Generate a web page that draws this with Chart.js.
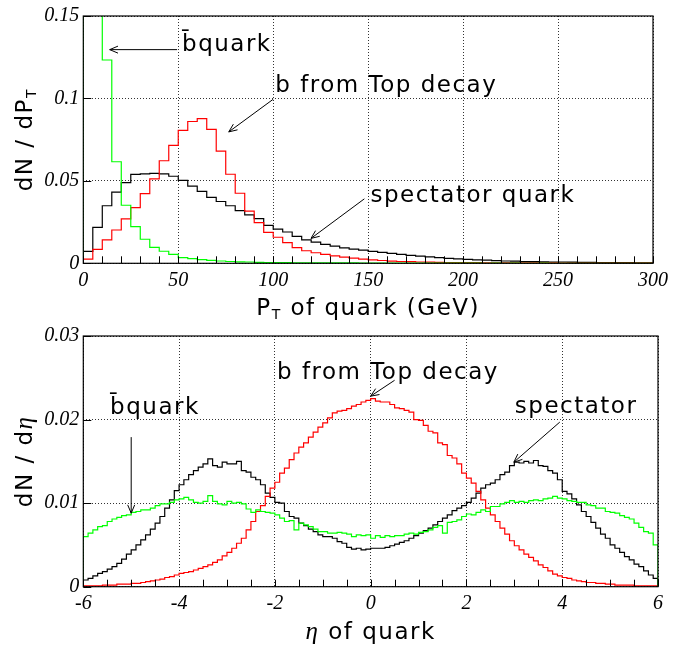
<!DOCTYPE html>
<html>
<head>
<meta charset="utf-8">
<script src="https://cdn.jsdelivr.net/npm/chart.js@4.4.1/dist/chart.umd.min.js"></script>
<style>
html, body { margin: 0; padding: 0; background: #fff; }
#wrap { position: relative; width: 673px; height: 652px; }
canvas { position: absolute; left: 0; }
</style>
</head>
<body>
<div id="wrap">
  <canvas id="ptChart" style="top:0px;width:673px;height:320px" width="673" height="320"></canvas>
  <canvas id="etaChart" style="top:320px;width:673px;height:332px" width="673" height="332"></canvas>
</div>
<script>
// ---- PT panel: 5 GeV bins from 0 to 300 ----
var ptBinLow = 0, ptBinWidth = 5;
var ptBbar = [0.32, 0.25, 0.1233, 0.0616, 0.0352, 0.0222, 0.0146, 0.0096, 0.0073, 0.0054,
  0.0035, 0.0028, 0.0022, 0.0018, 0.0014, 0.0011, 0.0009, 0.0008, 0.0006, 0.0005,
  0.0004, 0.0004, 0.0003, 0.0003, 0.0003, 0.0002, 0.0002, 0.0002, 0.0002, 0.0001,
  0.0001, 0.0001, 0.0001, 0.0001, 0.0001, 0.0001, 0.0001, 0.0001, 0.0001, 0.0001,
  0.0001, 0.0001, 0, 0.0001, 0, 0.0001, 0, 0, 0.0001, 0,
  0, 0, 0, 0, 0, 0, 0, 0, 0, 0];
var ptSpectator = [0.0072, 0.0218, 0.0349, 0.0432, 0.0489, 0.0539, 0.0543, 0.0545, 0.0543, 0.0528,
  0.0503, 0.0468, 0.0436, 0.0400, 0.0375, 0.0349, 0.0319, 0.0294, 0.0271, 0.0230,
  0.0207, 0.0190, 0.0163, 0.0142, 0.0128, 0.0115, 0.0104, 0.0094, 0.0086, 0.0080,
  0.0072, 0.0066, 0.0060, 0.0054, 0.0048, 0.0043, 0.0039, 0.0034, 0.0030, 0.0027,
  0.0024, 0.0021, 0.0019, 0.0016, 0.0014, 0.0013, 0.0011, 0.0010, 0.0009, 0.0008,
  0.0008, 0.0007, 0.0006, 0.0006, 0.0005, 0.0005, 0.0004, 0.0004, 0.0003, 0.0003];
var ptBfromTop = [0.0025, 0.0084, 0.0142, 0.0202, 0.0270, 0.0338, 0.0423, 0.0512, 0.0622, 0.0715,
  0.0806, 0.0860, 0.0878, 0.0812, 0.0680, 0.0540, 0.0425, 0.0317, 0.0247, 0.0188,
  0.0158, 0.0125, 0.0095, 0.0076, 0.0064, 0.0054, 0.0045, 0.0037, 0.0031, 0.0025,
  0.0021, 0.0017, 0.0013, 0.0011, 0.0010, 0.0008, 0.0007, 0.0006, 0.0005, 0.0005,
  0.0004, 0.0004, 0.0003, 0.0003, 0.0003, 0.0002, 0.0002, 0.0002, 0.0002, 0.0002,
  0.0001, 0.0001, 0.0001, 0.0001, 0.0001, 0.0001, 0.0001, 0.0001, 0.0001, 0.0001];
var ptXTicks = [0, 50, 100, 150, 200, 250, 300];
var ptYTicks = [0, 0.05, 0.1, 0.15];

// ---- eta panel: 0.1 bins from -6 to 6 ----
var etaBinLow = -6, etaBinWidth = 0.1;
var etaBbar = [0.0060, 0.0064, 0.0068, 0.0072, 0.0073, 0.0078, 0.0081, 0.0083, 0.0085, 0.0086,
  0.0089, 0.0090, 0.0092, 0.0092, 0.0094, 0.0097, 0.0099, 0.0099, 0.0101, 0.0104,
  0.0105, 0.0107, 0.0104, 0.0101, 0.0100, 0.0102, 0.0109, 0.0102, 0.0099, 0.0098,
  0.0102, 0.0100, 0.0101, 0.0099, 0.0093, 0.0089, 0.0092, 0.0090, 0.0089, 0.0088,
  0.0086, 0.0082, 0.0078, 0.0079, 0.0068, 0.0076, 0.0074, 0.0072, 0.0069, 0.0066,
  0.0066, 0.0064, 0.0064, 0.0065, 0.0064, 0.0063, 0.0060, 0.0062, 0.0061, 0.0062,
  0.0058, 0.0061, 0.0059, 0.0061, 0.0060, 0.0061, 0.0061, 0.0063, 0.0064, 0.0063,
  0.0065, 0.0066, 0.0068, 0.0071, 0.0073, 0.0064, 0.0077, 0.0078, 0.0080, 0.0084,
  0.0087, 0.0086, 0.0089, 0.0092, 0.0090, 0.0096, 0.0096, 0.0099, 0.0101, 0.0103,
  0.0101, 0.0102, 0.0101, 0.0103, 0.0104, 0.0103, 0.0105, 0.0106, 0.0108, 0.0106,
  0.0105, 0.0103, 0.0102, 0.0101, 0.0101, 0.0098, 0.0097, 0.0094, 0.0094, 0.0090,
  0.0089, 0.0088, 0.0085, 0.0083, 0.0081, 0.0076, 0.0071, 0.0066, 0.0064, 0.0050];
var etaSpectator = [0.0008, 0.0010, 0.0013, 0.0016, 0.0018, 0.0021, 0.0024, 0.0028, 0.0033, 0.0039,
  0.0044, 0.0050, 0.0056, 0.0062, 0.0069, 0.0076, 0.0084, 0.0094, 0.0104, 0.0115,
  0.0122, 0.0128, 0.0134, 0.0139, 0.0143, 0.0147, 0.0153, 0.0145, 0.0143, 0.0149,
  0.0147, 0.0147, 0.0150, 0.0139, 0.0137, 0.0131, 0.0128, 0.0122, 0.0112, 0.0107,
  0.0101, 0.0100, 0.0090, 0.0084, 0.0082, 0.0076, 0.0073, 0.0069, 0.0066, 0.0062,
  0.0060, 0.0060, 0.0058, 0.0054, 0.0052, 0.0047, 0.0045, 0.0046, 0.0044, 0.0045,
  0.0046, 0.0046, 0.0046, 0.0047, 0.0049, 0.0051, 0.0053, 0.0055, 0.0058, 0.0061,
  0.0064, 0.0067, 0.0070, 0.0074, 0.0078, 0.0082, 0.0086, 0.0091, 0.0094, 0.0097,
  0.0101, 0.0106, 0.0112, 0.0118, 0.0122, 0.0124, 0.0128, 0.0134, 0.0137, 0.0145,
  0.0149, 0.0148, 0.0150, 0.0148, 0.0151, 0.0145, 0.0144, 0.0139, 0.0136, 0.0128,
  0.0114, 0.0111, 0.0105, 0.0098, 0.0090, 0.0084, 0.0077, 0.0070, 0.0063, 0.0058,
  0.0050, 0.0046, 0.0041, 0.0036, 0.0032, 0.0027, 0.0024, 0.0019, 0.0014, 0.0010];
var etaBfromTop = [0.0001, 0.0001, 0.0001, 0.0001, 0.0002, 0.0002, 0.0002, 0.0003, 0.0003, 0.0003,
  0.0004, 0.0004, 0.0005, 0.0006, 0.0007, 0.0008, 0.0009, 0.0011, 0.0012, 0.0014,
  0.0016, 0.0017, 0.0018, 0.0020, 0.0022, 0.0024, 0.0026, 0.0029, 0.0032, 0.0037,
  0.0041, 0.0046, 0.0052, 0.0058, 0.0068, 0.0078, 0.0090, 0.0097, 0.0108, 0.0118,
  0.0125, 0.0136, 0.0142, 0.0152, 0.0160, 0.0167, 0.0172, 0.0179, 0.0185, 0.0191,
  0.0196, 0.0202, 0.0208, 0.0210, 0.0211, 0.0213, 0.0216, 0.0218, 0.0221, 0.0223,
  0.0225, 0.0222, 0.0221, 0.0221, 0.0218, 0.0214, 0.0213, 0.0211, 0.0209, 0.0200,
  0.0199, 0.0193, 0.0186, 0.0184, 0.0172, 0.0170, 0.0157, 0.0154, 0.0147, 0.0136,
  0.0130, 0.0124, 0.0114, 0.0104, 0.0094, 0.0086, 0.0078, 0.0070, 0.0063, 0.0055,
  0.0049, 0.0044, 0.0039, 0.0035, 0.0031, 0.0026, 0.0023, 0.0019, 0.0015, 0.0013,
  0.0011, 0.0010, 0.0008, 0.0007, 0.0006, 0.0005, 0.0005, 0.0004, 0.0004, 0.0003,
  0.0003, 0.0002, 0.0002, 0.0002, 0.0002, 0.0001, 0.0001, 0.0001, 0.0001, 0.0001];
var etaXTicks = [-6, -4, -2, 0, 2, 4, 6];
var etaYTicks = [0, 0.01, 0.02, 0.03];

var sansFont = '23px "DejaVu Sans"';
var subFont = '14px "DejaVu Sans"';
var greekFont = 'italic 25px "Liberation Serif"';
var textSpacing = '1.5px';

// turn bin contents into a closed step outline
function histPoints(lo, w, vals) {
  var n = vals.length;
  var pts = [{x: lo, y: 0}];
  for (var i = 0; i < n; i++) pts.push({x: lo + i * w, y: vals[i]});
  pts.push({x: lo + n * w, y: vals[n - 1]});
  pts.push({x: lo + n * w, y: 0});
  return pts;
}

function ds(label, color, pts) {
  return {label: label, data: pts, borderColor: color, borderWidth: 1.2,
    stepped: 'before', pointRadius: 0, fill: false, tension: 0};
}

function drawRich(ctx, parts, x, y) {
  var w = 0;
  parts.forEach(function(p) { ctx.font = p.font; w += ctx.measureText(p.t).width; });
  var cx = x - w / 2;
  parts.forEach(function(p) {
    ctx.font = p.font;
    ctx.fillText(p.t, cx, y + (p.dy || 0));
    cx += ctx.measureText(p.t).width;
  });
}

function arrow(ctx, x1, y1, x2, y2) {
  var ang = Math.atan2(y2 - y1, x2 - x1), h = 9, s = 0.4;
  ctx.beginPath();
  ctx.moveTo(x1, y1); ctx.lineTo(x2, y2);
  ctx.moveTo(x2 - h * Math.cos(ang - s), y2 - h * Math.sin(ang - s));
  ctx.lineTo(x2, y2);
  ctx.lineTo(x2 - h * Math.cos(ang + s), y2 - h * Math.sin(ang + s));
  ctx.stroke();
}

function decor(cfg) {
  return {
    id: 'decor',
    afterDraw: function(chart) {
      var ctx = chart.ctx, a = chart.chartArea;
      var xs = chart.scales.x, ys = chart.scales.y;
      ctx.save();
      ctx.strokeStyle = '#000';
      ctx.fillStyle = '#000';
      // small ticks pointing inwards
      ctx.lineWidth = 1;
      ctx.beginPath();
      for (var v = cfg.xMin; v <= cfg.xMax + 1e-9; v += cfg.xMinor) {
        var px = Math.round(xs.getPixelForValue(v)) + 0.5;
        ctx.moveTo(px, a.bottom); ctx.lineTo(px, a.bottom - 7);
      }
      cfg.yTicks.forEach(function(t) {
        var py = Math.round(ys.getPixelForValue(t)) + 0.5;
        ctx.moveTo(a.left, py); ctx.lineTo(a.left + 8, py);
      });
      ctx.stroke();
      ctx.lineWidth = 1.2;
      ctx.strokeRect(a.left, a.top, a.right - a.left, a.bottom - a.top);
      // arrows
      ctx.lineWidth = 1;
      cfg.arrows.forEach(function(r) {
        arrow(ctx, xs.getPixelForValue(r[0]), ys.getPixelForValue(r[1]),
          xs.getPixelForValue(r[2]), ys.getPixelForValue(r[3]));
      });
      // annotation texts
      ctx.textAlign = 'left';
      ctx.textBaseline = 'alphabetic';
      ctx.letterSpacing = textSpacing;
      ctx.font = sansFont;
      cfg.notes.forEach(function(n) {
        ctx.fillText(n.t, xs.getPixelForValue(n.x), ys.getPixelForValue(n.y));
      });
      // axis titles
      drawRich(ctx, cfg.xTitle, (a.left + a.right) / 2, a.bottom + 52);
      ctx.translate(a.left - 51, (a.top + a.bottom) / 2);
      ctx.rotate(-Math.PI / 2);
      drawRich(ctx, cfg.yTitle, 0, 0);
      ctx.restore();
    }
  };
}

function makeChart(id, sets, xMin, xMax, yMax, xTicks, yTicks, padTop, bottomEdge, deco) {
  var h = document.getElementById(id).height;
  var tickFont = {family: 'Liberation Serif', style: 'italic', size: 20};
  return new Chart(document.getElementById(id), {
    type: 'line',
    data: {datasets: sets},
    options: {
      responsive: false,
      animation: false,
      layout: {autoPadding: false, padding: {top: padTop, right: 15, left: 0, bottom: 0}},
      plugins: {legend: {display: false}, tooltip: {enabled: false}},
      scales: {
        x: {
          type: 'linear', min: xMin, max: xMax,
          afterBuildTicks: function(s) { s.ticks = xTicks.map(function(v) { return {value: v}; }); },
          afterFit: function(s) { s.height = h - bottomEdge; },
          ticks: {font: tickFont, color: '#000', padding: 5, maxRotation: 0,
            callback: function(v) { return String(v); }},
          grid: {color: '#333', lineWidth: 1, drawTicks: false},
          border: {display: false, dash: [1, 2]}
        },
        y: {
          min: 0, max: yMax,
          afterBuildTicks: function(s) { s.ticks = yTicks.map(function(v) { return {value: v}; }); },
          afterFit: function(s) { s.width = 83.3; },
          ticks: {font: tickFont, color: '#000', padding: 4,
            callback: function(v) { return String(parseFloat(v.toFixed(4))); }},
          grid: {color: '#333', lineWidth: 1, drawTicks: false},
          border: {display: false, dash: [1, 2]}
        }
      }
    },
    plugins: [deco]
  });
}

makeChart('ptChart', [
    ds('b-bar quark', '#00ff00', histPoints(ptBinLow, ptBinWidth, ptBbar)),
    ds('b from Top decay', '#ff0000', histPoints(ptBinLow, ptBinWidth, ptBfromTop)),
    ds('spectator quark', '#000000', histPoints(ptBinLow, ptBinWidth, ptSpectator))
  ], 0, 300, 0.15, ptXTicks, ptYTicks, 12.7, 263.3,
  decor({
    xMin: 0, xMax: 300, xMinor: 10, yTicks: ptYTicks,
    arrows: [[49.4, 0.1296, 13.9, 0.1296], [100, 0.0995, 76.6, 0.0797], [148, 0.0391, 119.9, 0.0151]],
    notes: [{t: 'b\u0304quark', x: 52, y: 0.1286}, {t: 'b from Top decay', x: 101.1, y: 0.1036},
      {t: 'spectator quark', x: 151.2, y: 0.0373}],
    xTitle: [{t: 'P', font: sansFont}, {t: 'T', font: subFont, dy: 4}, {t: ' of quark (GeV)', font: sansFont}],
    yTitle: [{t: 'dN / dP', font: sansFont}, {t: 'T', font: subFont, dy: 4}]
  }));

makeChart('etaChart', [
    ds('b-bar quark', '#00ff00', histPoints(etaBinLow, etaBinWidth, etaBbar)),
    ds('b from Top decay', '#ff0000', histPoints(etaBinLow, etaBinWidth, etaBfromTop)),
    ds('spectator', '#000000', histPoints(etaBinLow, etaBinWidth, etaSpectator))
  ], -6, 6, 0.03, etaXTicks, etaYTicks, 15.7, 266.7,
  decor({
    xMin: -6, xMax: 6, xMinor: 0.5, yTicks: etaYTicks,
    arrows: [[-5, 0.0179, -5, 0.0088], [0.5, 0.0247, 0, 0.0228], [3.95, 0.0197, 2.99, 0.0149]],
    notes: [{t: 'b\u0304quark', x: -5.44, y: 0.0207}, {t: 'b from Top decay', x: -1.956, y: 0.0249},
      {t: 'spectator', x: 3.01, y: 0.0208}],
    xTitle: [{t: '\u03b7', font: greekFont}, {t: ' of quark', font: sansFont}],
    yTitle: [{t: 'dN / d', font: sansFont}, {t: '\u03b7', font: greekFont}]
  }));
</script>
</body>
</html>
